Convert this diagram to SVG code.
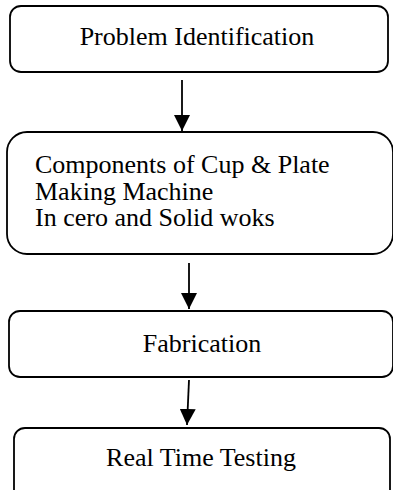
<svg xmlns="http://www.w3.org/2000/svg" width="393" height="490" viewBox="0 0 393 490">
<style>
.box{fill:#fff;stroke:#000;stroke-width:1.8}
.t{font-family:"Liberation Serif","Times New Roman",serif;font-size:26px;fill:#000}
.c{stroke:#000;stroke-width:1.8;fill:none}
</style>
<defs>
<marker id="ah" markerWidth="16" markerHeight="16" refX="16" refY="8" orient="auto" markerUnits="userSpaceOnUse">
<path d="M0,0 L16,8 L0,16 Z" fill="#000"/>
</marker>
</defs>
<rect width="393" height="490" fill="#fff"/>
<g id="connectors">
<line class="c" x1="182" y1="80" x2="182" y2="131" marker-end="url(#ah)"/>
<line class="c" x1="189" y1="263" x2="189" y2="309" marker-end="url(#ah)"/>
<line class="c" x1="189" y1="380" x2="187" y2="425" marker-end="url(#ah)"/>
</g>
<g id="n1">
<rect class="box" x="10" y="6" width="378" height="66" rx="11"/>
<text class="t" x="197" y="45" text-anchor="middle">Problem Identification</text>
</g>
<g id="n2">
<rect class="box" x="7" y="132" width="386" height="122" rx="20"/>
<text class="t" x="35" y="173">Components of Cup &amp; Plate</text>
<text class="t" x="35" y="200">Making Machine</text>
<text class="t" x="35" y="226">In cero and Solid woks</text>
</g>
<g id="n3">
<rect class="box" x="9" y="311" width="384" height="66" rx="11"/>
<text class="t" x="202" y="352" text-anchor="middle">Fabrication</text>
</g>
<g id="n4">
<rect class="box" x="14" y="428" width="376" height="80" rx="11"/>
<text class="t" x="201" y="466" text-anchor="middle">Real Time Testing</text>
</g>
</svg>
